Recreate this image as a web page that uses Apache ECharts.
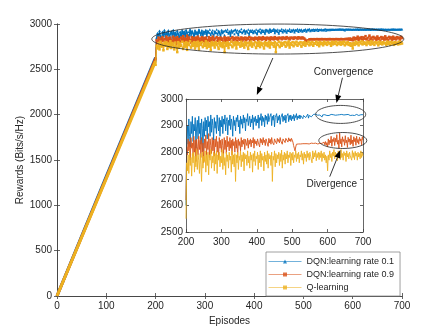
<!DOCTYPE html>
<html>
<head>
<meta charset="utf-8">
<script src="https://cdn.jsdelivr.net/npm/echarts@6/dist/echarts.min.js"></script>
<style>
  html, body { margin: 0; padding: 0; background: #fff; }
  #chart { width: 443px; height: 332px; }
</style>
</head>
<body>
<div id="chart"></div>
<script>
// names shown in the legend
const seriesNames = ['DQN:learning rate 0.1', 'DQN:learning rate 0.9', 'Q-learning'];
const colors = ['#0072BD', '#D95319', '#EDB120'];

// linear ramp, episodes 0-200
const rampEpisodes = [0, 100, 200];
const rampBlue = [0, 1320, 2630];
const rampOrange = [0, 1305, 2615];
const rampYellow = [0, 1295, 2590];

// noisy part, one value every 2 episodes from 200 to 700
const tailStart = 200;
const tailStep = 2;
const tailBlue = [
  2600, 2850, 2900, 2830, 2925, 2860, 2820, 2915, 2870, 2935,
  2840, 2905, 2880, 2930, 2815, 2895, 2920, 2850, 2935, 2870,
  2910, 2830, 2925, 2890, 2805, 2915, 2860, 2930, 2880, 2920,
  2850, 2935, 2895, 2915, 2860, 2940, 2875, 2925, 2900, 2845,
  2930, 2890, 2915, 2870, 2940, 2905, 2880, 2930, 2860, 2920,
  2895, 2935, 2870, 2925, 2905, 2940, 2880, 2915, 2930, 2865,
  2920, 2900, 2940, 2885, 2925, 2910, 2860, 2935, 2900, 2920,
  2880, 2930, 2915, 2940, 2895, 2920, 2870, 2935, 2905, 2925,
  2890, 2940, 2910, 2930, 2880, 2925, 2915, 2945, 2900, 2920,
  2935, 2895, 2925, 2910, 2940, 2885, 2930, 2915, 2935, 2900,
  2925, 2910, 2940, 2890, 2930, 2920, 2945, 2900, 2935, 2915,
  2930, 2895, 2940, 2920, 2935, 2905, 2945, 2915, 2930, 2925,
  2945, 2900, 2935, 2920, 2940, 2895, 2930, 2925, 2945, 2910,
  2935, 2920, 2940, 2905, 2930, 2925, 2945, 2915, 2935, 2920,
  2940, 2910, 2935, 2928, 2945, 2915, 2938, 2922, 2940, 2918,
  2935, 2925, 2942, 2918, 2938, 2930, 2945, 2922, 2936, 2928,
  2940, 2925, 2938, 2932, 2944, 2926, 2938, 2934, 2942, 2930,
  2937, 2932, 2943, 2928, 2938, 2935, 2942, 2933, 2940, 2936,
  2942, 2937, 2940, 2943, 2938, 2941, 2939, 2942, 2938, 2940,
  2941, 2937, 2932, 2940, 2942, 2938, 2941, 2939, 2942, 2938,
  2940, 2942, 2938, 2941, 2939, 2942, 2937, 2940, 2941, 2938,
  2942, 2939, 2941, 2938, 2940, 2942, 2939, 2941, 2937, 2940,
  2942, 2938, 2941, 2940, 2942, 2939, 2941, 2938, 2940, 2942,
  2939, 2941, 2938, 2942, 2940, 2939, 2942, 2940, 2938, 2941,
  2940, 2942, 2939, 2941, 2938, 2942, 2940, 2941, 2939, 2942,
  2941
];
const tailOrange = [
  2620, 2820, 2790, 2850, 2805, 2840, 2770, 2855, 2815, 2835,
  2785, 2860, 2800, 2845, 2765, 2850, 2820, 2790, 2860, 2810,
  2845, 2780, 2855, 2800, 2835, 2760, 2850, 2815, 2865, 2790,
  2840, 2810, 2870, 2780, 2850, 2825, 2795, 2855, 2805, 2845,
  2785, 2850, 2820, 2860, 2800, 2840, 2775, 2855, 2815, 2845,
  2800, 2850, 2825, 2790, 2855, 2810, 2845, 2795, 2860, 2820,
  2840, 2805, 2855, 2815, 2845, 2790, 2850, 2825, 2840, 2800,
  2855, 2815, 2845, 2780, 2850, 2825, 2840, 2805, 2855, 2820,
  2845, 2830, 2850, 2810, 2848, 2835, 2825, 2852, 2815, 2845,
  2830, 2850, 2820, 2845, 2835, 2855, 2815, 2848, 2832, 2842,
  2825, 2850, 2838, 2845, 2820, 2852, 2835, 2848, 2828, 2855,
  2836, 2845, 2825, 2850, 2840, 2846, 2822, 2852, 2835, 2848,
  2830, 2855, 2838, 2845, 2828, 2850, 2842, 2848, 2832, 2852,
  2840, 2848, 2835, 2855, 2842, 2846, 2830, 2850, 2844, 2849,
  2836, 2852, 2845, 2848, 2838, 2854, 2842, 2850, 2840, 2852,
  2845, 2838, 2825, 2815, 2805, 2820, 2830, 2832, 2833, 2831,
  2832, 2833, 2831, 2832, 2834, 2832, 2831, 2833, 2832, 2834,
  2831, 2832, 2833, 2832, 2831, 2833, 2832, 2834, 2832, 2831,
  2833, 2832, 2831, 2834, 2832, 2833, 2831, 2832, 2834, 2833,
  2832, 2831, 2833, 2835, 2832, 2838, 2828, 2840, 2826, 2836,
  2820, 2850, 2828, 2845, 2835, 2860, 2822, 2848, 2840, 2855,
  2825, 2852, 2838, 2866, 2830, 2845, 2815, 2872, 2832, 2850,
  2820, 2858, 2840, 2848, 2826, 2862, 2835, 2845, 2818, 2856,
  2838, 2850, 2828, 2864, 2832, 2846, 2822, 2858, 2840, 2852,
  2826, 2860, 2836, 2848, 2830, 2856, 2842, 2850, 2828, 2858,
  2845
];
const tailYellow = [
  2550, 2760, 2730, 2790, 2720, 2805, 2750, 2780, 2710, 2795,
  2760, 2800, 2725, 2785, 2745, 2810, 2735, 2790, 2770, 2720,
  2795, 2755, 2690, 2800, 2740, 2785, 2765, 2805, 2725, 2790,
  2750, 2800, 2715, 2790, 2770, 2810, 2740, 2785, 2760, 2800,
  2730, 2795, 2755, 2805, 2720, 2790, 2770, 2800, 2745, 2785,
  2760, 2810, 2735, 2795, 2750, 2780, 2715, 2800, 2765, 2790,
  2740, 2800, 2770, 2785, 2725, 2805, 2755, 2790, 2745, 2795,
  2690, 2790, 2760, 2800, 2735, 2785, 2770, 2805, 2745, 2790,
  2765, 2800, 2730, 2795, 2775, 2790, 2750, 2805, 2760, 2785,
  2740, 2800, 2770, 2790, 2725, 2795, 2765, 2805, 2750, 2785,
  2775, 2800, 2735, 2790, 2760, 2805, 2745, 2795, 2770, 2785,
  2730, 2800, 2765, 2790, 2755, 2805, 2740, 2795, 2775, 2788,
  2750, 2800, 2690, 2785, 2770, 2805, 2745, 2795, 2760, 2790,
  2775, 2800, 2750, 2795, 2765, 2808, 2740, 2790, 2770, 2800,
  2755, 2795, 2775, 2805, 2760, 2790, 2780, 2800, 2750, 2795,
  2770, 2800, 2760, 2790, 2780, 2805, 2765, 2795, 2775, 2800,
  2760, 2790, 2782, 2805, 2770, 2795, 2755, 2800, 2778, 2792,
  2765, 2805, 2780, 2795, 2770, 2800, 2785, 2792, 2760, 2805,
  2775, 2798, 2782, 2806, 2768, 2795, 2780, 2800, 2772, 2798,
  2780, 2805, 2765, 2795, 2778, 2800, 2770, 2790, 2760, 2785,
  2730, 2790, 2770, 2805, 2780, 2795, 2765, 2800, 2785, 2810,
  2775, 2800, 2782, 2795, 2768, 2805, 2785, 2798, 2772, 2810,
  2780, 2795, 2770, 2802, 2788, 2797, 2765, 2805, 2782, 2795,
  2775, 2800, 2786, 2792, 2770, 2806, 2780, 2798, 2772, 2803,
  2785, 2796, 2770, 2800, 2782, 2795, 2775, 2805, 2780, 2798,
  2785
];

// annotation anchors, in data coordinates
const notes = {
  bigEllipse: { grid: 0, at: [448, 2834], rx: 126, ry: 15 },
  convEllipse: { grid: 1, at: [637, 2942], rx: 25, ry: 9 },
  divEllipse: { grid: 1, at: [643, 2844], rx: 24, ry: 8 },
  convText: { grid: 1, at: [645, 3099], text: 'Convergence' },
  divText: { grid: 1, at: [612, 2681], text: 'Divergence' }
};
const arrows = [
  { from: [0, [438, 2625]], to: [1, [400, 3015]] },
  { from: [1, [642, 3080]], to: [1, [625, 2985]] },
  { from: [1, [606, 2708]], to: [1, [636, 2808]] }
];

function pairs(xs, ys) {
  return xs.map((x, i) => [x, ys[i]]);
}
function tailPairs(ys) {
  return ys.map((y, i) => [tailStart + i * tailStep, y]);
}

const rampData = [pairs(rampEpisodes, rampBlue), pairs(rampEpisodes, rampOrange), pairs(rampEpisodes, rampYellow)];
const tailData = [tailPairs(tailBlue), tailPairs(tailOrange), tailPairs(tailYellow)];
const symbols = ['triangle', 'rect', 'rect'];

const axisColor = '#404040';
const font = 'Liberation Sans, Arial, sans-serif';

function axisOf(grid, min, max, step, pos, labels, extra) {
  return Object.assign({
    type: 'value', gridIndex: grid, min: min, max: max, interval: step, position: pos,
    axisLine: { show: true, lineStyle: { color: axisColor, width: 0.8 } },
    axisTick: { show: true, inside: true, length: 3, lineStyle: { color: axisColor, width: 0.8 } },
    axisLabel: { show: labels, color: '#262626', fontSize: 10, fontFamily: font, margin: 5, formatter: v => String(v) },
    splitLine: { show: false }
  }, extra || {});
}

const chart = echarts.init(document.getElementById('chart'));

const series = [];
rampData.forEach((d, i) => {
  series.push({
    name: 'ramp' + i, type: 'line', xAxisIndex: 0, yAxisIndex: 0,
    data: d, symbol: 'none', lineStyle: { width: 3, color: colors[i] },
    animation: false, z: 2 + i
  });
});
tailData.forEach((d, i) => {
  series.push({
    name: seriesNames[i], type: 'line', xAxisIndex: 0, yAxisIndex: 0,
    data: d, symbol: symbols[i], symbolSize: 2.5, showSymbol: true,
    lineStyle: { width: 1.3, color: colors[i] }, itemStyle: { color: colors[i] },
    animation: false, z: 2 + i
  });
});
tailData.forEach((d, i) => {
  series.push({
    name: 'inset' + i, type: 'line', xAxisIndex: 2, yAxisIndex: 2,
    data: d, symbol: 'none', lineStyle: { width: 0.9, color: colors[i] },
    animation: false, z: 10 + i
  });
});

chart.setOption({
  backgroundColor: '#fff',
  animation: false,
  grid: [
    { left: 57, top: 24, right: 41, bottom: 36 },
    { left: 186, top: 99, right: 80, bottom: 100, show: true, backgroundColor: '#fff', borderWidth: 0, z: 5 }
  ],
  xAxis: [
    axisOf(0, 0, 700, 100, 'bottom', true, {
      name: 'Episodes', nameLocation: 'middle', nameGap: 20,
      nameTextStyle: { color: '#262626', fontSize: 10, fontFamily: font }
    }),
    axisOf(0, 0, 700, 100, 'top', false),
    axisOf(1, 200, 700, 100, 'bottom', true, { z: 12 }),
    axisOf(1, 200, 700, 100, 'top', false, { z: 12 })
  ],
  yAxis: [
    axisOf(0, 0, 3000, 500, 'left', true, {
      name: 'Rewards (Bits/s/Hz)', nameLocation: 'middle', nameGap: 32, nameMoveOverlap: false,
      nameTextStyle: { color: '#262626', fontSize: 10, fontFamily: font }
    }),
    axisOf(0, 0, 3000, 500, 'right', false),
    axisOf(1, 2500, 3000, 100, 'left', true, { z: 12, axisLabel: { color: '#262626', fontSize: 10, fontFamily: font, margin: 3, formatter: v => String(v) } }),
    axisOf(1, 2500, 3000, 100, 'right', false, { z: 12 })
  ],
  legend: {
    data: seriesNames, orient: 'vertical', left: 266, top: 252,
    padding: [4, 6, 3, 2], itemGap: 2, itemWidth: 33, itemHeight: 5,
    backgroundColor: '#fff', borderColor: '#888', borderWidth: 0.8, borderRadius: 0,
    lineStyle: { width: 1, opacity: 0.55 },
    itemStyle: { opacity: 0.8 },
    textStyle: { color: '#262626', fontSize: 9, fontFamily: font, lineHeight: 11 }
  },
  series: series
});

// annotations placed from data coordinates
function px(grid, p) {
  return chart.convertToPixel({ gridIndex: grid }, p);
}
function arrowShapes(a, b) {
  const dx = b[0] - a[0], dy = b[1] - a[1];
  const len = Math.sqrt(dx * dx + dy * dy);
  const ux = dx / len, uy = dy / len;
  const hl = 8, hw = 3;
  const base = [b[0] - ux * hl, b[1] - uy * hl];
  return [
    { type: 'line', shape: { x1: a[0], y1: a[1], x2: base[0], y2: base[1] }, style: { stroke: '#000', lineWidth: 0.8 }, z: 20 },
    { type: 'polygon', shape: { points: [b, [base[0] - uy * hw, base[1] + ux * hw], [base[0] + uy * hw, base[1] - ux * hw]] }, style: { fill: '#000' }, z: 20 }
  ];
}

const graphics = [];
['bigEllipse', 'convEllipse', 'divEllipse'].forEach(k => {
  const n = notes[k];
  const c = px(n.grid, n.at);
  graphics.push({ type: 'ellipse', shape: { cx: c[0], cy: c[1], rx: n.rx, ry: n.ry }, style: { fill: null, stroke: '#222', lineWidth: 0.8 }, z: 20 });
});
['convText', 'divText'].forEach(k => {
  const n = notes[k];
  const c = px(n.grid, n.at);
  graphics.push({ type: 'text', x: c[0], y: c[1], style: { text: n.text, fill: '#262626', font: '10px ' + font, align: 'center', verticalAlign: 'middle' }, z: 20 });
});
arrows.forEach(a => {
  arrowShapes(px(a.from[0], a.from[1]), px(a.to[0], a.to[1])).forEach(g => graphics.push(g));
});
chart.setOption({ graphic: graphics });
</script>
</body>
</html>
